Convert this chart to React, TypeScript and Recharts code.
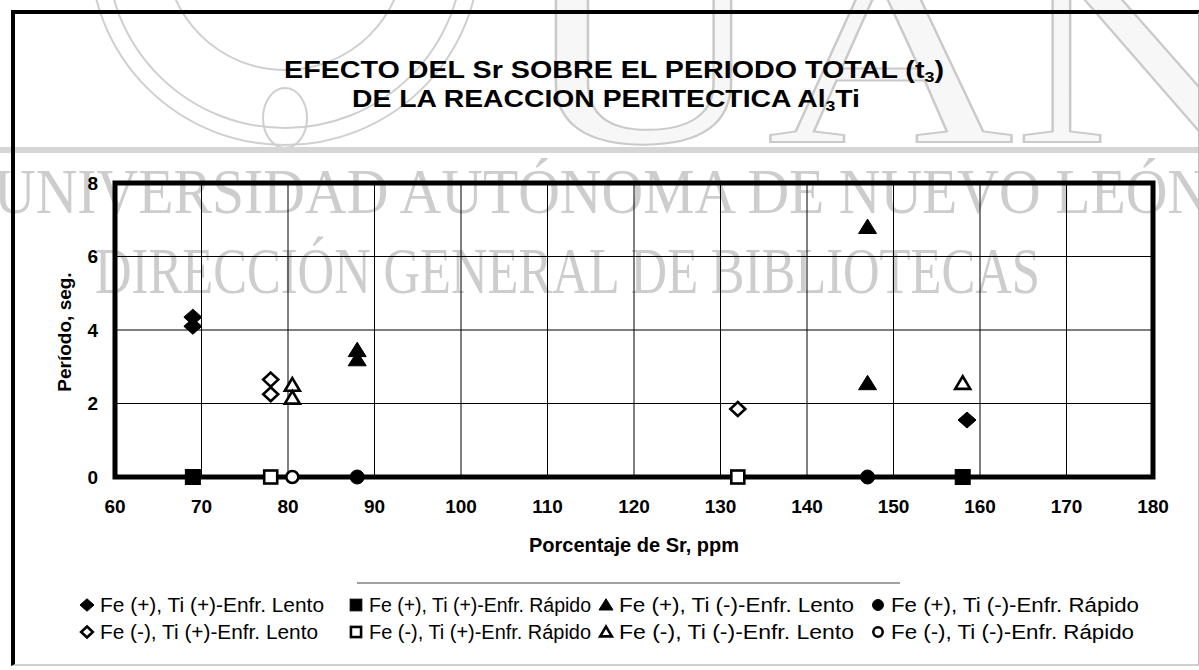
import React from 'react';
import { ScatterChart, Scatter, XAxis, YAxis, CartesianGrid, ReferenceArea } from 'recharts';

const FONT = '"Liberation Sans", Arial, Helvetica, sans-serif';
const SERIF = '"Liberation Serif", "DejaVu Serif", "Times New Roman", serif';

// ---- axis ticks ----
const xTicks = [60, 70, 80, 90, 100, 110, 120, 130, 140, 150, 160, 170, 180];
const yTicks = [0, 2, 4, 6, 8];

// ---- series (x = Sr ppm, y = periodo s) ----
const feMasTiMasLento = [{ x: 69, y: 4.35 }, { x: 69, y: 4.1 }, { x: 158.5, y: 1.55 }];
const feMasTiMasRapido = [{ x: 69, y: 0 }, { x: 158, y: 0 }];
const feMasTiMenosLento = [{ x: 88, y: 3.45 }, { x: 88, y: 3.2 }, { x: 147, y: 6.8 }, { x: 147, y: 2.55 }];
const feMasTiMenosRapido = [{ x: 88, y: 0 }, { x: 147, y: 0 }];
const feMenosTiMasLento = [{ x: 78, y: 2.65 }, { x: 78, y: 2.25 }, { x: 132, y: 1.85 }];
const feMenosTiMasRapido = [{ x: 78, y: 0 }, { x: 132, y: 0 }];
const feMenosTiMenosLento = [{ x: 80.5, y: 2.5 }, { x: 80.5, y: 2.15 }, { x: 158, y: 2.55 }];
const feMenosTiMenosRapido = [{ x: 80.5, y: 0 }];

const seriesNames = [
  'Fe (+), Ti (+)-Enfr. Lento',
  'Fe (+), Ti (+)-Enfr. Rápido',
  'Fe (+), Ti (-)-Enfr. Lento',
  'Fe (+), Ti (-)-Enfr. Rápido',
  'Fe (-), Ti (+)-Enfr. Lento',
  'Fe (-), Ti (+)-Enfr. Rápido',
  'Fe (-), Ti (-)-Enfr. Lento',
  'Fe (-), Ti (-)-Enfr. Rápido',
];

type Kind = 'diamond' | 'square' | 'triangle' | 'circle';

const seriesStyles: { kind: Kind; filled: boolean }[] = [
  { kind: 'diamond', filled: true },
  { kind: 'square', filled: true },
  { kind: 'triangle', filled: true },
  { kind: 'circle', filled: true },
  { kind: 'diamond', filled: false },
  { kind: 'square', filled: false },
  { kind: 'triangle', filled: false },
  { kind: 'circle', filled: false },
];

const seriesData = [
  feMasTiMasLento,
  feMasTiMasRapido,
  feMasTiMenosLento,
  feMasTiMenosRapido,
  feMenosTiMasLento,
  feMenosTiMasRapido,
  feMenosTiMenosLento,
  feMenosTiMenosRapido,
];

function Marker({ kind, filled, cx, cy, k = 1 }: { kind: Kind; filled: boolean; cx: number; cy: number; k?: number }) {
  const fill = filled ? '#000' : '#fff';
  const sw = filled ? 1 : 2.6;
  if (kind === 'diamond') {
    const rx = (filled ? 9 : 7.5) * k;
    const ry = (filled ? 8 : 7) * k;
    return (
      <polygon
        points={`${cx},${cy - ry} ${cx + rx},${cy} ${cx},${cy + ry} ${cx - rx},${cy}`}
        fill={fill}
        stroke="#000"
        strokeWidth={sw}
        strokeLinejoin="miter"
      />
    );
  }
  if (kind === 'square') {
    const h = (filled ? 7.5 : 6.5) * k;
    return <rect x={cx - h} y={cy - h} width={2 * h} height={2 * h} fill={fill} stroke="#000" strokeWidth={sw} />;
  }
  if (kind === 'triangle') {
    const w = (filled ? 9 : 7.5) * k;
    const h = (filled ? 8 : 7) * k;
    return (
      <polygon
        points={`${cx},${cy - h} ${cx + w},${cy + h * 0.8} ${cx - w},${cy + h * 0.8}`}
        fill={fill}
        stroke="#000"
        strokeWidth={sw}
        strokeLinejoin="miter"
      />
    );
  }
  const r = (filled ? 7 : 6) * k;
  return <circle cx={cx} cy={cy} r={r} fill={fill} stroke="#000" strokeWidth={sw} />;
}

const makeShape = (kind: Kind, filled: boolean) => (props: any) => {
  const { cx, cy } = props;
  if (cx == null || cy == null) return <g />;
  return <Marker kind={kind} filled={filled} cx={cx} cy={cy} />;
};

// legend layout
const legendMarkerX = [87, 356, 606, 878];
const legendTextX = [100, 369, 619, 891];
const legendRowY = [605, 632];
const legendTextWidth = [224, 222, 235, 248, 218, 222, 235, 243];

const tickStyle = { fill: '#000', fontSize: 19, fontWeight: 700, fontFamily: FONT };

export default function App() {
  return (
    <div style={{ position: 'absolute', left: 0, top: 0, width: 1199, height: 670, background: '#fff', overflow: 'hidden' }}>
      {/* watermark */}
      <svg width={1199} height={670} style={{ position: 'absolute', left: 0, top: 0 }}>
        <g fill="none" stroke="#cfcfcf" strokeWidth={2}>
          <circle cx={285} cy={-50} r={195} />
          <circle cx={285} cy={-50} r={178} />
          <circle cx={285} cy={-50} r={120} />
          <ellipse cx={285} cy={118} rx={22} ry={30} />
        </g>
        <text
          x={520}
          y={142}
          fontFamily={SERIF}
          fontSize={270}
          fill="#f7f7f7"
          stroke="#cacaca"
          strokeWidth={2}
          textLength={950}
          lengthAdjust="spacingAndGlyphs"
        >
          UANL
        </text>
        <rect x={0} y={147} width={1199} height={6} fill="#d6d6d6" />
        <text
          x={-6}
          y={213}
          fontFamily={SERIF}
          fontSize={64}
          fill="#cdcdcd"
          textLength={1215}
          lengthAdjust="spacingAndGlyphs"
        >
          UNIVERSIDAD AUTÓNOMA DE NUEVO LEÓN
        </text>
        <text
          x={95}
          y={293}
          fontFamily={SERIF}
          fontSize={66}
          fill="#cdcdcd"
          textLength={945}
          lengthAdjust="spacingAndGlyphs"
        >
          DIRECCIÓN GENERAL DE BIBLIOTECAS
        </text>
      </svg>

      {/* outer frame */}
      <div
        style={{
          position: 'absolute',
          left: 11,
          top: 10,
          width: 1183,
          height: 650,
          borderLeft: '4px solid #000',
          borderTop: '4px solid #000',
          borderRight: '2px solid #bdbdbd',
          borderBottom: '2px solid #cfcfcf',
        }}
      />

      {/* chart */}
      <div style={{ position: 'absolute', left: 0, top: 0 }}>
        <ScatterChart width={1199} height={670} margin={{ top: 183, right: 46, bottom: 153, left: 55 }}>
          <CartesianGrid stroke="#000" strokeWidth={1} />
          <XAxis
            type="number"
            dataKey="x"
            domain={[60, 180]}
            ticks={xTicks}
            height={40}
            axisLine={false}
            tickLine={false}
            tickSize={0}
            tickMargin={23}
            tick={tickStyle}
            interval={0}
          />
          <YAxis
            type="number"
            dataKey="y"
            domain={[0, 8]}
            ticks={yTicks}
            width={60}
            axisLine={false}
            tickLine={false}
            tickSize={0}
            tickMargin={17}
            tick={tickStyle}
            interval={0}
          />
          <ReferenceArea x1={60} x2={180} y1={0} y2={8} fill="none" stroke="#000" strokeWidth={5} />
          {seriesData.map((d, i) => (
            <Scatter
              key={i}
              name={seriesNames[i]}
              data={d}
              isAnimationActive={false}
              shape={makeShape(seriesStyles[i].kind, seriesStyles[i].filled)}
            />
          ))}
        </ScatterChart>
      </div>

      {/* titles, axis titles, legend */}
      <svg width={1199} height={670} style={{ position: 'absolute', left: 0, top: 0, pointerEvents: 'none' }}>
        <text
          x={284}
          y={78}
          fontFamily={FONT}
          fontWeight={700}
          fontSize={24}
          fill="#000"
          textLength={660}
          lengthAdjust="spacingAndGlyphs"
        >
          EFECTO DEL Sr SOBRE EL PERIODO TOTAL (t<tspan fontSize={15} dy={4}>3</tspan>
          <tspan dy={-4}>)</tspan>
        </text>
        <text
          x={352}
          y={107}
          fontFamily={FONT}
          fontWeight={700}
          fontSize={24}
          fill="#000"
          textLength={508}
          lengthAdjust="spacingAndGlyphs"
        >
          DE LA REACCION PERITECTICA Al<tspan fontSize={15} dy={4}>3</tspan>
          <tspan dy={-4}>Ti</tspan>
        </text>
        <text
          x={634}
          y={552}
          textAnchor="middle"
          fontFamily={FONT}
          fontWeight={700}
          fontSize={20}
          fill="#000"
        >
          Porcentaje de Sr, ppm
        </text>
        <text
          x={0}
          y={0}
          transform="translate(71,332) rotate(-90)"
          textAnchor="middle"
          fontFamily={FONT}
          fontWeight={700}
          fontSize={19}
          fill="#000"
        >
          Período, seg.
        </text>
        <line x1={357} y1={583} x2={900} y2={583} stroke="#444" strokeWidth={1.2} />
        {seriesNames.map((name, i) => {
          const row = i < 4 ? 0 : 1;
          const col = i % 4;
          const cy = legendRowY[row];
          return (
            <g key={i}>
              <Marker kind={seriesStyles[i].kind} filled={seriesStyles[i].filled} cx={legendMarkerX[col]} cy={cy} k={0.78} />
              <text
                x={legendTextX[col]}
                y={cy + 7}
                fontFamily={FONT}
                fontSize={20}
                fill="#000"
                textLength={legendTextWidth[i]}
                lengthAdjust="spacingAndGlyphs"
              >
                {name}
              </text>
            </g>
          );
        })}
      </svg>
    </div>
  );
}
